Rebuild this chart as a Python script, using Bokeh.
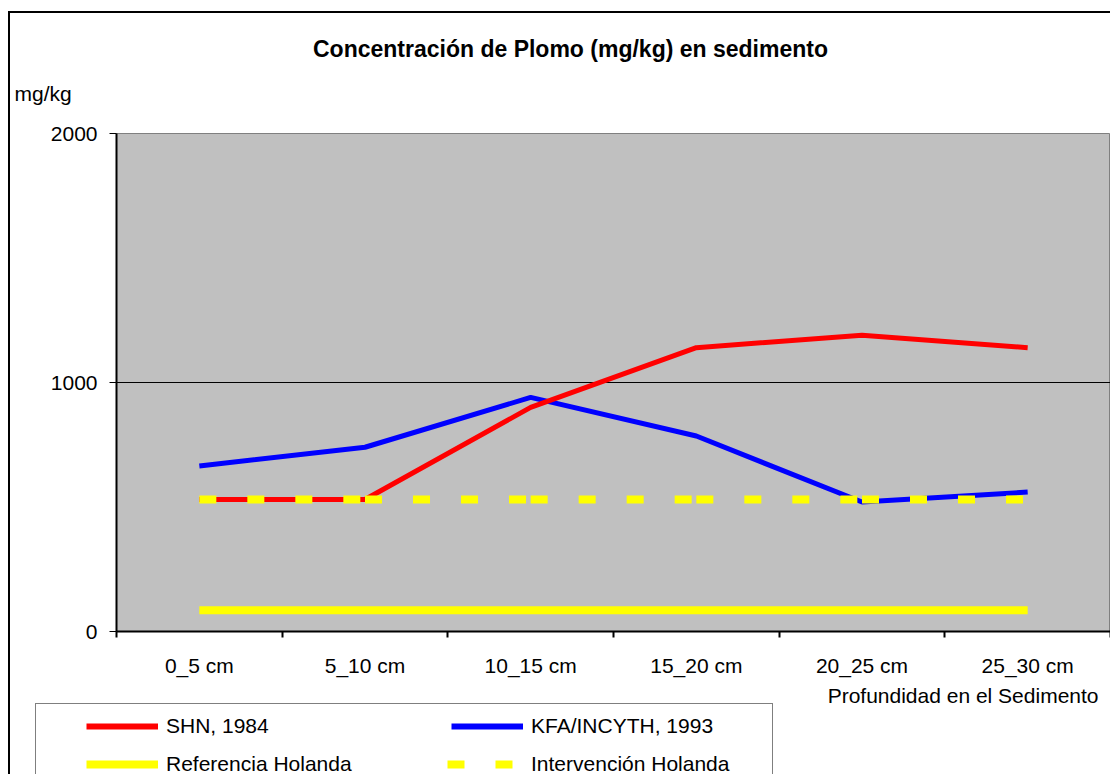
from bokeh.plotting import figure
from bokeh.models import FixedTicker, Legend, LegendItem, Label
from bokeh.layouts import column
from bokeh.embed import file_html
from bokeh.resources import INLINE

# ---- data ----
categories = ["0_5 cm", "5_10 cm", "10_15 cm", "15_20 cm", "20_25 cm", "25_30 cm"]
shn_1984 = [530, 530, 900, 1140, 1190, 1140]
kfa_1993 = [665, 740, 940, 785, 520, 560]
referencia_holanda = [85, 85, 85, 85, 85, 85]
intervencion_holanda = [530, 530, 530, 530, 530, 530]
y_ticks = [0, 1000, 2000]

FONT = "Liberation Sans"
FS = "21px"
W = 1110


def no_align(f):
    try:
        f.frame_align = False
    except Exception:
        pass


def bare(height):
    f = figure(width=W, height=height, x_range=(0, 1), y_range=(0, 1),
               output_backend="svg", toolbar_location=None,
               x_axis_location=None, y_axis_location=None,
               min_border=0, min_border_left=0, min_border_right=0,
               min_border_top=0, min_border_bottom=0)
    f.xgrid.visible = False
    f.ygrid.visible = False
    f.outline_line_color = None
    f.background_fill_alpha = 0
    f.border_fill_alpha = 0
    no_align(f)
    return f


# ---- header: title and unit ----
head = bare(110)
head.add_layout(Label(x=570, y=62, x_units="screen", y_units="screen",
                      text="Concentración de Plomo (mg/kg) en sedimento",
                      text_align="center", text_baseline="middle",
                      text_font=FONT, text_font_size="23px", text_font_style="bold",
                      text_color="black"))
head.add_layout(Label(x=14, y=17, x_units="screen", y_units="screen",
                      text="mg/kg", text_align="left", text_baseline="middle",
                      text_font=FONT, text_font_size=FS, text_color="black"))

# ---- main chart ----
xs = [i + 0.5 for i in range(len(categories))]
bounds = list(range(len(categories) + 1))

p = figure(width=W, height=572, x_range=(0, len(categories)), y_range=(0, 2000),
           output_backend="svg", toolbar_location=None,
           min_border_left=116, min_border_right=0, min_border_top=23, min_border_bottom=51)
no_align(p)
p.background_fill_color = "#c0c0c0"
p.border_fill_alpha = 0
p.outline_line_color = "#808080"
p.outline_line_width = 1

p.xaxis.ticker = FixedTicker(ticks=xs, minor_ticks=bounds)
p.xaxis.major_label_overrides = {x: c for x, c in zip(xs, categories)}
p.xaxis.major_tick_line_color = None
p.xaxis.major_tick_out = 0
p.xaxis.major_tick_in = 0
p.xaxis.minor_tick_out = 6
p.xaxis.minor_tick_in = 0
p.xaxis.minor_tick_line_color = "black"
p.xaxis.minor_tick_line_width = 2
p.xaxis.axis_line_color = "black"
p.xaxis.axis_line_width = 2
p.xaxis.major_label_standoff = 16
p.xaxis.major_label_text_font = FONT
p.xaxis.major_label_text_font_size = FS
p.xaxis.major_label_text_color = "black"

p.yaxis.ticker = FixedTicker(ticks=y_ticks, minor_ticks=[])
p.yaxis.major_tick_out = 7
p.yaxis.major_tick_in = 0
p.yaxis.major_tick_line_color = "black"
p.yaxis.major_tick_line_width = 1
p.yaxis.axis_line_color = "black"
p.yaxis.axis_line_width = 2
p.yaxis.major_label_standoff = 12
p.yaxis.major_label_text_font = FONT
p.yaxis.major_label_text_font_size = FS
p.yaxis.major_label_text_color = "black"

p.xgrid.visible = False
p.ygrid.ticker = FixedTicker(ticks=[1000])
p.ygrid.grid_line_color = "black"
p.ygrid.grid_line_width = 1

p.line(xs, kfa_1993, line_color="#0000ff", line_width=5)
p.line(xs, shn_1984, line_color="#ff0000", line_width=5)
p.line(xs, referencia_holanda, line_color="#ffff00", line_width=8)
p.segment(x0=xs[:-1], y0=intervencion_holanda[:-1], x1=xs[1:], y1=intervencion_holanda[1:],
          line_color="#ffff00", line_width=8, line_dash="17 31")

# ---- footer: x-axis title and legend ----
foot = bare(92)
foot.add_layout(Label(x=1098, y=79, x_units="screen", y_units="screen",
                      text="Profundidad en el Sedimento", text_align="right",
                      text_baseline="middle", text_font=FONT, text_font_size=FS,
                      text_color="black"))

# legend swatch renderers: same series, but outside this strip's (invisible) ranges
lg_shn = foot.line(xs, shn_1984, line_color="#ff0000", line_width=6,
                   line_dash="72 40", line_dash_offset=72)
lg_kfa = foot.line(xs, kfa_1993, line_color="#0000ff", line_width=6,
                   line_dash="72 40", line_dash_offset=72)
lg_ref = foot.line(xs, referencia_holanda, line_color="#ffff00", line_width=8,
                   line_dash="72 40", line_dash_offset=72)
lg_int = foot.line(xs, intervencion_holanda, line_color="#ffff00", line_width=8,
                   line_dash="17 31 17 47", line_dash_offset=76)

legend = Legend(items=[
    LegendItem(label="SHN, 1984", renderers=[lg_shn]),
    LegendItem(label="KFA/INCYTH, 1993", renderers=[lg_kfa]),
    LegendItem(label="Referencia Holanda", renderers=[lg_ref]),
    LegendItem(label="Intervención Holanda", renderers=[lg_int]),
], orientation="horizontal", ncols=2, location=(35, -13))
legend.glyph_width = 112
legend.glyph_height = 24
legend.label_height = 24
legend.label_width = 231
legend.label_standoff = 8
legend.spacing = 14
legend.padding = 10
legend.margin = 0
legend.label_text_font = FONT
legend.label_text_font_size = FS
legend.label_text_color = "black"
legend.border_line_color = "black"
legend.border_line_width = 1
legend.background_fill_color = "white"
legend.background_fill_alpha = 1
foot.add_layout(legend, "center")

# outer chart-area frame: only its left and top edges fall inside the page
root = column(head, p, foot, spacing=0)
root.styles = {
    "background-color": "white",
    "background-image": "linear-gradient(black, black), linear-gradient(black, black)",
    "background-size": "2px 100%, 100% 2px",
    "background-position": "8px 11px, 8px 11px",
    "background-repeat": "no-repeat",
}

open("out.html", "w").write(file_html(root, INLINE))
